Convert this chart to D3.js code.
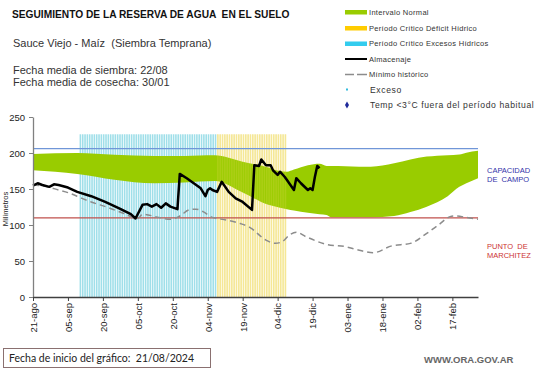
<!DOCTYPE html>
<html><head><meta charset="utf-8">
<script src="https://cdn.jsdelivr.net/npm/d3@7"></script>
<style>body{margin:0;background:#fff}svg{display:block;font-family:"Liberation Sans",Arial,sans-serif}svg text{white-space:pre}</style>
</head><body><svg id="c" width="541" height="368"></svg>
<script>
// ---- data ----
const tickDays = [0,15,30,45,60,75,90,105,120,135,150,165,180];
const tickLabels = ["21-ago","05-sep","20-sep","05-oct","20-oct","04-nov","19-nov","04-dic","19-dic","03-ene","18-ene","02-feb","17-feb"];
const yTicks = [0,50,100,150,200,250];
const capacidadCampo = 206;
const puntoMarchitez = 110;
const excesoPeriod = [20, 78];   // Periodo Crítico Excesos Hídricos (days since 21-ago)
const deficitPeriod = [79, 108]; // Periodo Crítico Déficit Hídrico
const barTop = 226;
const normalDays  = [0, 19, 35, 52, 65, 78, 90, 101, 106, 109, 112, 118, 123, 126, 128, 140, 145, 155, 162, 169, 178, 183, 186, 191];
const normalUpper = [198.6, 200, 197.5, 196, 196, 197, 188, 180, 175, 174, 177, 183, 185, 182, 182, 181, 181, 185.6, 191, 195, 197, 198, 200.5, 203];
const normalLower = [176, 171, 163, 158, 159, 161, 145, 128, 124, 122, 120, 117, 115, 114, 110.6, 110.6, 110.6, 112.5, 118, 125.5, 140, 153, 158, 165];
const almDays = [0, 2, 4, 7, 9, 11, 15, 19, 25, 31, 37, 42, 44, 47, 49, 51, 53, 55, 57, 59, 62, 63, 66, 69, 72, 74, 75, 76, 77, 79, 81, 84, 87, 90, 94, 95, 97, 98, 100, 102, 103, 105, 106, 108, 109, 112, 113, 115, 118, 119, 120, 121, 122, 123];
const almVals = [154.6, 158, 155.5, 153, 156.5, 155.5, 152, 146, 140, 132, 123, 115, 109, 128, 129, 125.5, 129, 124, 130, 125.5, 122, 171, 165, 158, 151, 140, 148.6, 151, 148.6, 146, 160, 146, 137, 132, 121, 183, 182, 191, 183, 183, 176, 169.5, 174, 167, 162.5, 148.6, 165, 158, 148.6, 151, 148.6, 167, 182, 179];
const minDays = [0, 5, 11, 15, 21, 25, 32, 39, 45, 47, 54, 59, 63, 67, 70, 73, 77, 83, 89, 93, 100, 104, 107, 110, 113, 117, 126, 134, 140, 146, 154, 162, 169, 174, 179, 181, 186, 191];
const minVals = [155.5, 154, 148.6, 145, 137, 132, 124.5, 116, 109, 115, 110.6, 108, 112.5, 121, 122, 118.5, 110.6, 107, 102, 96.8, 79, 74.5, 77, 86, 90, 84, 73, 70, 65, 61.5, 71, 74.5, 88.4, 100, 111.6, 112.5, 110.6, 108];
const legendItems = ["Intervalo Normal","Período Crítico Déficit Hídrico","Período Crítico Excesos Hídricos","Almacenaje","Mínimo histórico","Exceso","Temp <3°C fuera del período habitual"];

// ---- chart ----
const svg = d3.select("#c");
const x = d3.scaleLinear().domain([0,191]).range([33,478]);
const y = d3.scaleLinear().domain([0,250]).range([297,117]);
const dayW = x(1)-x(0);

function bars(period, color, op){
  svg.append("g").selectAll("rect").data(d3.range(period[0], period[1]+1)).join("rect")
    .attr("x", d=>x(d)).attr("width", dayW*0.68)
    .attr("y", y(barTop)).attr("height", y(0)-y(barTop))
    .attr("fill", color).attr("opacity", op);
}
bars(excesoPeriod, "#9fdfe9", 1);
bars(deficitPeriod, "#f6eba6", 1);

const band = normalDays.map((d,i)=>({d, u: normalUpper[i], l: normalLower[i]}));
svg.append("path").datum(band)
  .attr("d", d3.area().x(p=>x(p.d)).y0(p=>y(p.l)).y1(p=>y(p.u)).curve(d3.curveMonotoneX))
  .attr("fill", "#99cc00");
bars(deficitPeriod, "#f0dc60", 0.22);

svg.append("line").attr("x1", x(0)).attr("x2", x(191)).attr("y1", y(capacidadCampo)).attr("y2", y(capacidadCampo))
  .attr("stroke", "#7096d8").attr("stroke-width", 1.2);
svg.append("line").attr("x1", x(0)).attr("x2", x(191)).attr("y1", y(puntoMarchitez)).attr("y2", y(puntoMarchitez))
  .attr("stroke", "#c0504d").attr("stroke-width", 1.2);

svg.append("path").datum(minDays.map((d,i)=>[d,minVals[i]]))
  .attr("d", d3.line().x(p=>x(p[0])).y(p=>y(p[1])).curve(d3.curveMonotoneX))
  .attr("fill","none").attr("stroke","#8c8c8c").attr("stroke-width",1.5).attr("stroke-dasharray","6,4");
svg.append("path").datum(almDays.map((d,i)=>[d,almVals[i]]))
  .attr("d", d3.line().x(p=>x(p[0])).y(p=>y(p[1])))
  .attr("fill","none").attr("stroke","#000").attr("stroke-width",2.5).attr("stroke-linejoin","round");

const yAxis = svg.append("g").attr("transform", `translate(${x(0)},0)`)
  .call(d3.axisLeft(y).tickValues(yTicks).tickSize(4).tickSizeOuter(0));
yAxis.select(".domain").attr("stroke","#808080").attr("stroke-width",1.3);
yAxis.selectAll(".tick line").attr("stroke","#808080");
yAxis.selectAll("text").attr("font-size","9.5px").attr("fill","#222").attr("font-family","Liberation Sans").attr("dx","-1");

const xAxis = svg.append("g").attr("transform", `translate(0,${y(0)})`)
  .call(d3.axisBottom(x).tickValues(tickDays).tickFormat((d,i)=>tickLabels[i]).tickSize(4).tickSizeOuter(0));
xAxis.select(".domain").attr("stroke","#404040").attr("stroke-width",1.3);
xAxis.selectAll(".tick line").attr("stroke","#404040");
xAxis.selectAll("text").attr("font-size","9.5px").attr("fill","#222").attr("font-family","Liberation Sans")
  .attr("transform","rotate(-90)").attr("text-anchor","end").attr("x",-6).attr("y",0).attr("dy","0.35em");

svg.append("text").attr("transform","translate(8,209) rotate(-90)").attr("text-anchor","middle")
  .attr("font-size","7.5px").attr("fill","#222").text("Milímetros");

svg.append("text").attr("x",12).attr("y",18).attr("font-size","10.2px").attr("font-weight","bold").attr("fill","#111")
  .text("SEGUIMIENTO DE LA RESERVA DE AGUA  EN EL SUELO");
svg.append("text").attr("x",13).attr("y",47).attr("font-size","11px").attr("fill","#333").text("Sauce Viejo - Maíz  (Siembra Temprana)");
svg.append("text").attr("x",13).attr("y",74).attr("font-size","11px").attr("fill","#333").text("Fecha media de siembra: 22/08");
svg.append("text").attr("x",13).attr("y",86).attr("font-size","11px").attr("fill","#333").text("Fecha media de cosecha: 30/01");

svg.append("text").attr("x",487).attr("y",173).attr("font-size","7.5px").attr("fill","#3333aa").text("CAPACIDAD");
svg.append("text").attr("x",487).attr("y",182).attr("font-size","7.5px").attr("fill","#3333aa").text("DE  CAMPO");
svg.append("text").attr("x",487).attr("y",249).attr("font-size","7.5px").attr("fill","#cc3333").text("PUNTO  DE");
svg.append("text").attr("x",487).attr("y",258).attr("font-size","7.5px").attr("fill","#cc3333").text("MARCHITEZ");

const lg = svg.append("g");
const rowY = [12, 28, 43.5, 59, 74.5, 89.5, 105];
const swCol = ["#99cc00","#ffcc00","#33ccee"];
legendItems.forEach((t,i)=>{
  const yy = rowY[i];
  if (i<3) lg.append("rect").attr("x",345).attr("y",yy-2).attr("width",22).attr("height",4.5).attr("fill",swCol[i]);
  else if (i===3) lg.append("line").attr("x1",345).attr("x2",367).attr("y1",yy).attr("y2",yy).attr("stroke","#000").attr("stroke-width",2);
  else if (i===4) lg.append("line").attr("x1",345).attr("x2",367).attr("y1",yy).attr("y2",yy).attr("stroke","#8c8c8c").attr("stroke-width",1.5).attr("stroke-dasharray","9,3,5,0");
  else if (i===5) lg.append("rect").attr("x",346).attr("y",yy-1).attr("width",2).attr("height",2).attr("fill","#33bbdd");
  else lg.append("path").attr("d",d3.symbol(d3.symbolDiamond, 14)()).attr("transform",`translate(347,${yy})`).attr("fill","#1f2a9a");
  lg.append("text").attr("x", i>=5 ? 370 : 369).attr("y",yy).attr("dy","0.35em")
    .attr("font-size", i>=5 ? "8.6px" : "7.5px").attr("letter-spacing", i>=5 ? "0.6px" : "0.3px")
    .attr("fill","#333").text(t);
});

svg.append("rect").attr("x",3.5).attr("y",348.5).attr("width",207).attr("height",19).attr("fill","#fff").attr("stroke","#8a7070").attr("stroke-width",1);
svg.append("text").attr("x",9).attr("y",358).attr("dy","0.35em").attr("font-family","Lato").attr("font-size","10.5px").attr("fill","#222")
  .text("Fecha de inicio del gráfico:  21/08/2024");
svg.append("text").attr("x",424).attr("y",360).attr("dy","0.35em").attr("font-size","9.5px").attr("font-weight","bold").attr("fill","#666")
  .text("WWW.ORA.GOV.AR");
</script></body></html>
